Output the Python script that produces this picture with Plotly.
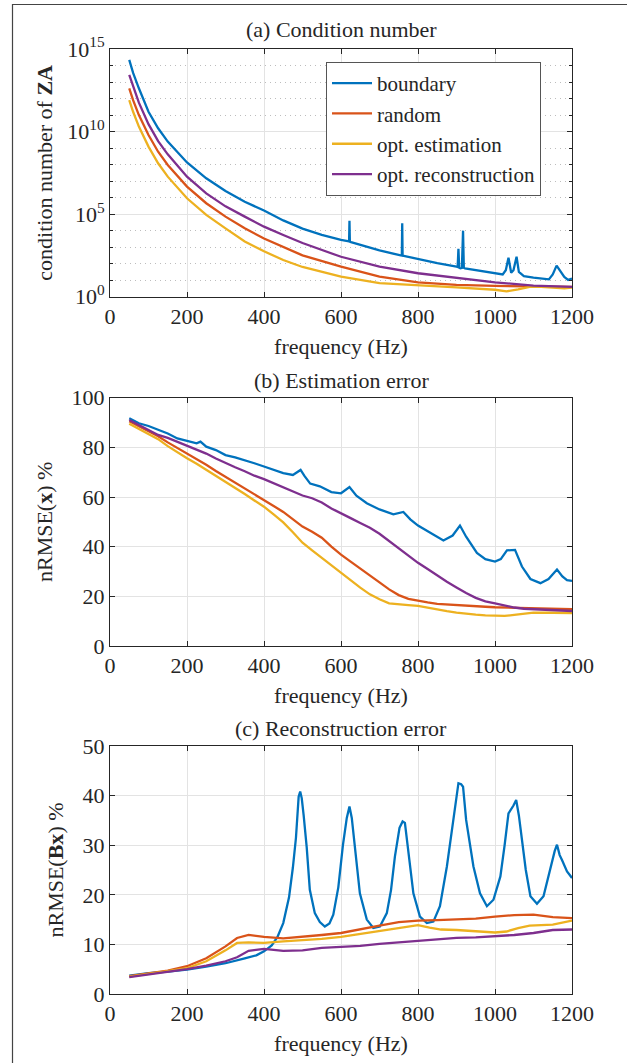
import plotly.graph_objects as go

# ---------------- data ----------------
# (a) condition number, stored as log10 values
f_cond_boundary = [50, 60, 75, 100, 125, 150, 200, 250, 300, 350, 400, 450, 500, 550, 600,
                   618, 621, 622, 623, 626, 700, 755, 758, 759, 760, 763, 800, 850, 900, 903,
                   905, 907, 910, 914, 917, 919, 922, 950, 1000, 1020, 1028, 1035, 1042, 1048,
                   1056, 1062, 1075, 1100, 1140, 1150, 1160, 1170, 1180, 1190, 1200]
logcond_boundary = [14.34, 13.55, 12.62, 11.2, 10.2, 9.39, 8.13, 7.17, 6.4, 5.75, 5.22, 4.62, 4.12, 3.75, 3.44,
                    3.35, 3.35, 4.6, 3.33, 3.3, 2.8, 2.5, 2.5, 4.45, 2.48, 2.47, 2.27, 2.03, 1.82, 1.8,
                    2.9, 1.75, 1.72, 1.75, 4.0, 1.75, 1.72, 1.62, 1.45, 1.35, 1.6, 2.36, 1.45, 1.6,
                    2.42, 1.5, 1.25, 1.15, 1.05, 1.35, 1.88, 1.5, 1.2, 1.02, 1.1]

f_cond = [50, 60, 75, 100, 125, 150, 200, 250, 300, 350, 400, 450, 500, 600, 700, 800, 900, 1000, 1100, 1200]
logcond_random = [12.62, 11.9, 11.0, 9.79, 8.78, 7.98, 6.67, 5.66, 4.85, 4.14, 3.52, 3.03, 2.5, 1.82, 1.22,
                  0.87, 0.72, 0.65, 0.62, 0.6]
logcond_optrec = [13.43, 12.7, 11.75, 10.45, 9.42, 8.62, 7.27, 6.26, 5.47, 4.85, 4.24, 3.74, 3.25, 2.42, 1.82,
                  1.42, 1.15, 0.87, 0.67, 0.6]

f_cond_optest = [50, 60, 75, 100, 125, 150, 200, 250, 300, 350, 400, 450, 500, 600, 700, 800, 900, 1000,
                 1030, 1060, 1090, 1120, 1150, 1180, 1200]
logcond_optest = [11.91, 11.2, 10.3, 9.09, 8.08, 7.27, 5.96, 4.95, 4.14, 3.34, 2.75, 2.22, 1.8, 1.21, 0.82,
                  0.71, 0.57, 0.42, 0.32, 0.45, 0.6, 0.6, 0.53, 0.5, 0.55]

# (b) estimation error nRMSE(x) %
f_est_boundary = [50, 75, 100, 125, 150, 175, 200, 225, 235, 250, 275, 300, 325, 350, 375, 400, 425, 450,
                  475, 495, 505, 520, 545, 575, 600, 622, 640, 667, 700, 736, 762, 780, 800, 840, 866,
                  890, 909, 925, 953, 975, 1000, 1015, 1031, 1052, 1070, 1092, 1118, 1139, 1161, 1175,
                  1187, 1200]
est_boundary = [91.7, 89.7, 88.6, 87.0, 85.6, 83.6, 82.6, 81.6, 82.3, 80.3, 78.9, 76.9, 76.0, 74.9, 73.6,
                72.3, 70.9, 69.6, 68.9, 70.9, 68.5, 65.4, 64.3, 62.0, 61.5, 64.0, 60.5, 57.5, 55.0, 53.0,
                54.0, 51.0, 48.5, 45.0, 42.5, 44.5, 48.5, 44.0, 37.5, 35.0, 34.0, 35.0, 38.5, 38.7, 32.0,
                27.0, 25.3, 27.0, 30.8, 28.0, 26.5, 26.2]

f_est = [50, 75, 100, 125, 150, 175, 200, 225, 250, 275, 300, 325, 350, 375, 400, 425, 450, 475, 500,
         525, 550, 575, 600, 625, 650, 675, 700, 725, 750, 775, 800, 825, 850, 875, 900, 925, 950, 975,
         1000, 1025, 1050, 1075, 1100, 1150, 1200]
est_random = [90.5, 88.5, 86.8, 84.5, 82.0, 79.8, 77.6, 75.5, 73.0, 70.5, 68.2, 65.8, 63.3, 61.0, 58.8,
              56.4, 54.0, 51.2, 48.1, 46.0, 43.6, 40.0, 36.8, 34.0, 31.3, 28.5, 25.6, 22.8, 20.5, 19.0,
              18.2, 17.6, 17.0, 16.7, 16.4, 16.2, 16.0, 15.8, 15.6, 15.5, 15.4, 15.3, 15.2, 15.0, 14.8]
est_optest = [89.5, 87.5, 85.6, 83.3, 80.5, 78.0, 75.6, 73.4, 71.0, 68.6, 66.2, 63.6, 61.2, 58.6, 56.1,
              53.0, 49.8, 45.8, 41.6, 38.5, 35.5, 32.2, 29.3, 26.4, 23.5, 20.8, 18.8, 17.2, 16.7, 16.5,
              16.2, 15.4, 14.6, 14.0, 13.4, 12.9, 12.6, 12.3, 12.1, 12.1, 12.5, 13.1, 13.4, 13.4, 13.3]
est_optrec = [91.0, 89.0, 87.0, 85.0, 83.8, 82.2, 80.8, 79.2, 77.5, 75.5, 73.6, 72.0, 70.4, 68.6, 67.2,
              65.5, 64.0, 62.2, 60.6, 59.5, 57.8, 55.4, 53.3, 51.5, 49.5, 47.6, 45.2, 42.3, 39.5, 36.5,
              33.5, 31.0, 28.4, 25.9, 23.6, 21.3, 19.4, 18.0, 17.2, 16.2, 15.5, 15.0, 14.8, 14.4, 14.1]

# (c) reconstruction error nRMSE(Bx) %
f_rec_boundary = [50, 100, 150, 200, 250, 300, 350, 380, 400, 420, 435, 450, 465, 475, 483, 490, 494, 498,
                  503, 511, 519, 532, 545, 558, 570, 580, 593, 605, 615, 622, 628, 638, 649, 667, 684,
                  701, 719, 730, 740, 752, 760, 766, 771, 780, 788, 805, 823, 840, 857, 875, 892, 900,
                  905, 912, 917, 925, 935, 944, 961, 979, 996, 1014, 1025, 1035, 1048, 1055, 1062, 1070,
                  1080, 1092, 1109, 1126, 1140, 1148, 1155, 1161, 1168, 1174, 1187, 1200]
rec_boundary = [3.7, 4.2, 4.5, 4.9, 5.5, 6.2, 7.2, 7.8, 8.6, 9.8, 11.5, 14.3, 19.5, 25.5, 31.5, 39.8, 40.8,
                39.5, 36.0, 29.5, 21.0, 16.3, 14.5, 13.6, 14.2, 16.0, 21.5, 30.0, 35.5, 37.8, 35.5, 28.0,
                20.3, 15.0, 13.3, 13.6, 16.3, 21.0, 27.7, 33.5, 34.8, 34.5, 31.1, 25.0, 20.3, 15.6, 14.3,
                14.6, 17.7, 25.7, 35.8, 40.0, 42.5, 42.3, 41.8, 35.1, 30.0, 25.7, 20.3, 17.7, 19.0, 23.7,
                30.0, 36.4, 38.0, 39.1, 36.0, 31.1, 25.0, 19.7, 18.2, 19.7, 24.0, 27.0, 28.8, 30.1, 28.0,
                27.0, 24.7, 23.4]

f_rec = [50, 100, 150, 200, 250, 300, 330, 360, 400, 450, 500, 550, 600, 650, 700, 750, 800, 850, 900,
         950, 1000, 1050, 1100, 1150, 1200]
rec_random = [3.6, 4.1, 4.7, 5.6, 7.2, 9.6, 11.3, 11.9, 11.5, 11.2, 11.5, 11.9, 12.3, 13.1, 13.8, 14.5,
              14.8, 14.9, 15.0, 15.2, 15.6, 15.9, 16.0, 15.5, 15.3]
rec_optrec = [3.4, 3.9, 4.4, 5.0, 5.7, 6.6, 7.4, 8.7, 9.1, 8.7, 8.8, 9.3, 9.5, 9.7, 10.1, 10.4, 10.8, 11.0,
              11.3, 11.4, 11.6, 11.9, 12.3, 12.9, 13.0]
f_rec_optest = [50, 100, 150, 200, 250, 300, 330, 360, 400, 450, 500, 550, 600, 650, 700, 750, 800, 830,
                860, 900, 950, 1000, 1030, 1060, 1090, 1150, 1200]
rec_optest = [3.5, 4.0, 4.6, 5.2, 6.6, 8.8, 10.3, 10.4, 10.3, 10.6, 10.8, 11.1, 11.5, 12.1, 12.6, 13.2,
              13.9, 13.4, 13.0, 12.9, 12.7, 12.4, 12.6, 13.3, 13.8, 14.0, 14.8]

series_names = ["boundary", "random", "opt. estimation", "opt. reconstruction"]
colors = ["#0072BD", "#D95319", "#EDB120", "#7E2F8E"]

panel_titles = ["(a) Condition number", "(b) Estimation error", "(c) Reconstruction error"]
x_ticks = [0, 200, 400, 600, 800, 1000, 1200]
cond_tickvals = [1e0, 1e5, 1e10, 1e15]
cond_ticktext = ["10<sup>0</sup>", "10<sup>5</sup>", "10<sup>10</sup>", "10<sup>15</sup>"]
cond_minor = [10.0 ** k for k in range(1, 15) if k % 5 != 0]

# ---------------- layout geometry ----------------
W, H = 627, 1063
ML, MR, MT, MB = 110, 55, 49, 69
PH = H - MT - MB
PW = W - ML - MR


def py(p):  # pixel row -> paper y
    return (H - MB - p) / PH


def px(p):  # pixel column -> paper x
    return (p - ML) / PW


FONT = "Liberation Serif, Times New Roman, Times, serif"
TXT = "#262626"
GRID = "#e3e3e3"
FS = 22

fig = go.Figure()

cond_sets = [
    (f_cond_boundary, logcond_boundary),
    (f_cond, logcond_random),
    (f_cond_optest, logcond_optest),
    (f_cond, logcond_optrec),
]
for (fx, ly), name, c in zip(cond_sets, series_names, colors):
    fig.add_trace(go.Scatter(x=fx, y=[10.0 ** v for v in ly], mode="lines", name=name,
                             line=dict(color=c, width=2.3), xaxis="x", yaxis="y"))

est_sets = [(f_est_boundary, est_boundary), (f_est, est_random), (f_est, est_optest), (f_est, est_optrec)]
for (fx, vy), name, c in zip(est_sets, series_names, colors):
    fig.add_trace(go.Scatter(x=fx, y=vy, mode="lines", name=name, showlegend=False,
                             line=dict(color=c, width=2.3), xaxis="x2", yaxis="y2"))

rec_sets = [(f_rec_boundary, rec_boundary), (f_rec, rec_random), (f_rec_optest, rec_optest), (f_rec, rec_optrec)]
for (fx, vy), name, c in zip(rec_sets, series_names, colors):
    fig.add_trace(go.Scatter(x=fx, y=vy, mode="lines", name=name, showlegend=False,
                             line=dict(color=c, width=2.3), xaxis="x3", yaxis="y3"))

tfont = dict(family=FONT, size=FS, color=TXT, weight="normal")
common_axis = dict(showline=True, linecolor=TXT, linewidth=1, mirror="ticks", ticks="inside",
                   ticklen=5, tickcolor=TXT, tickfont=tfont,
                   showgrid=True, gridcolor=GRID, gridwidth=1, zeroline=False)

xa = dict(common_axis, range=[0, 1200], tickvals=x_ticks,
          title=dict(text="frequency (Hz)", font=tfont, standoff=10))

doms = [(49, 296.7), (397.7, 646), (746, 994)]

fig.update_layout(
    width=W, height=H,
    margin=dict(l=ML, r=MR, t=MT, b=MB),
    paper_bgcolor="white", plot_bgcolor="white",
    font=tfont,
    xaxis=dict(xa, domain=[0, 1], anchor="y"),
    xaxis2=dict(xa, domain=[0, 1], anchor="y2"),
    xaxis3=dict(xa, domain=[0, 1], anchor="y3"),
    yaxis=dict(common_axis, type="log", range=[0, 15], domain=[py(doms[0][1]), py(doms[0][0])],
               anchor="x", tickvals=cond_tickvals, ticktext=cond_ticktext,
               minor=dict(tickvals=cond_minor, ticks="inside", ticklen=3, tickcolor=TXT,
                          showgrid=True, gridcolor="#bdbdbd", griddash="1px,4px", gridwidth=1),
               title=dict(text="condition number of <b>ZA</b>", font=tfont, standoff=8)),
    yaxis2=dict(common_axis, range=[0, 100], dtick=20, domain=[py(doms[1][1]), py(doms[1][0])],
                anchor="x2",
                title=dict(text="nRMSE(<b>x</b>) %", font=tfont, standoff=12)),
    yaxis3=dict(common_axis, range=[0, 50], dtick=10, domain=[py(doms[2][1]), py(doms[2][0])],
                anchor="x3",
                title=dict(text="nRMSE(<b>Bx</b>) %", font=tfont, standoff=12)),
    legend=dict(x=px(326), y=py(62), xanchor="left", yanchor="top", bgcolor="white",
                bordercolor="#555555", borderwidth=1, font=dict(tfont, size=21),
                tracegroupgap=0, itemwidth=40),
    showlegend=True,
)

title_rows = [30, 380, 728]
for t, r in zip(panel_titles, title_rows):
    fig.add_annotation(text=t, x=0.5, y=py(r), xref="paper", yref="paper", xanchor="center",
                       yanchor="middle", showarrow=False, font=tfont)

# figure frame
fig.add_shape(type="rect", xref="paper", yref="paper", x0=px(12.5), x1=px(700), y0=py(1100), y1=py(4.5),
              line=dict(color="#444444", width=1.2), fillcolor="rgba(0,0,0,0)", layer="below")

fig.write_html("out.html", config={"displayModeBar": False},
               post_script="document.body.style.margin='0px';")
